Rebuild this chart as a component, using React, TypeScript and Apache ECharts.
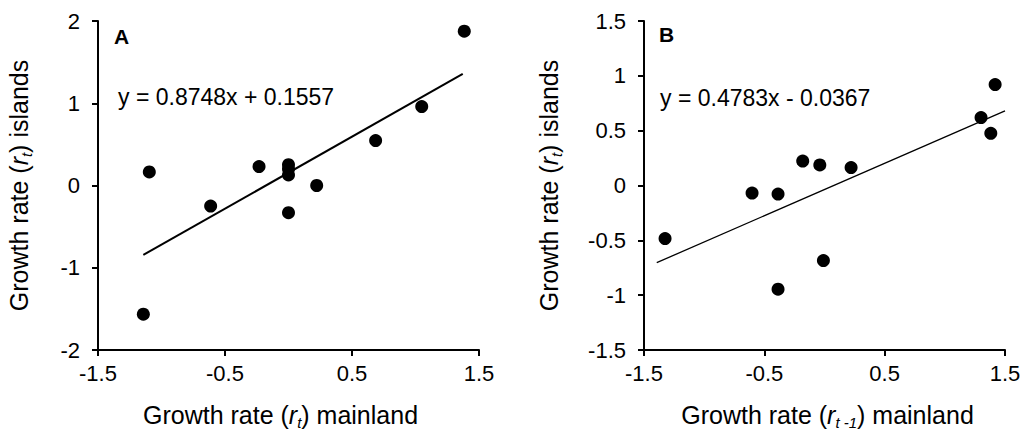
import React, { useEffect, useRef } from "react";
import * as echarts from "echarts";

const mainlandA = [1.384, 1.049, 0.686, 0.222, 0.0, 0.0, 0.0, 0.0, -0.232, -0.613, -1.096, -1.143];
const islandsA = [1.876, 0.959, 0.546, 0.0, 0.253, 0.2, 0.128, -0.33, 0.23, -0.25, 0.165, -1.565];
const mainlandB = [1.418, 1.301, 1.382, -0.181, -0.039, 0.221, -0.602, -0.386, -1.325, -0.009, -0.386];
const islandsB = [0.92, 0.62, 0.476, 0.223, 0.187, 0.163, -0.069, -0.078, -0.484, -0.685, -0.946];

const fitA = { slope: 0.8748, intercept: 0.1557, from: -1.143, to: 1.372 };
const fitB = { slope: 0.4783, intercept: -0.0367, from: -1.394, to: 1.5 };

const equationA = "y = 0.8748x + 0.1557";
const equationB = "y = 0.4783x - 0.0367";

const FONT = "'Liberation Sans', Arial, sans-serif";

function pairs(xs: number[], ys: number[]) {
  return xs.map((x, i) => [x, ys[i]]);
}
function fitLine(f: { slope: number; intercept: number; from: number; to: number }) {
  return [f.from, f.to].map((x) => [x, f.slope * x + f.intercept]);
}

const titleRich = {
  n: { fontSize: 25, fontFamily: FONT, color: "#000", lineHeight: 30 },
  i: { fontSize: 25, fontFamily: FONT, color: "#000", fontStyle: "italic", lineHeight: 30 },
  s: { fontSize: 15, fontFamily: FONT, color: "#000", fontStyle: "italic", lineHeight: 14, verticalAlign: "bottom" },
};

function xAxis(idx: number, name: string, pad: number[]) {
  return {
    type: "value",
    gridIndex: idx,
    min: -1.5,
    max: 1.5,
    interval: 1,
    name,
    nameLocation: "middle",
    nameGap: 50,
    nameTextStyle: { rich: titleRich, padding: pad },
    axisLine: { onZero: false, lineStyle: { color: "#000", width: 2 } },
    axisTick: { show: true, length: 6, lineStyle: { color: "#000", width: 2 } },
    axisLabel: { color: "#000", fontSize: 22, fontFamily: FONT, margin: 12 },
    splitLine: { show: false },
  };
}
function yAxis(idx: number, name: string, min: number, max: number, interval: number, gap: number) {
  return {
    type: "value",
    gridIndex: idx,
    min,
    max,
    interval,
    name,
    nameLocation: "middle",
    nameGap: gap,
    nameRotate: 90,
    nameTextStyle: { rich: titleRich },
    axisLine: { onZero: false, lineStyle: { color: "#000", width: 2 } },
    axisTick: { show: true, length: 6, lineStyle: { color: "#000", width: 2 } },
    axisLabel: { color: "#000", fontSize: 22, fontFamily: FONT, margin: 18 },
    splitLine: { show: false },
  };
}

export default function App() {
  const ref = useRef<HTMLDivElement>(null);
  useEffect(() => {
    if (!ref.current) return;
    const chart = echarts.init(ref.current, null, { renderer: "svg" });
    chart.setOption({
      animation: false,
      backgroundColor: "#fff",
      grid: [
        { left: 98, top: 21, width: 381, height: 332 },
        { left: 644, top: 21, width: 361, height: 332 },
      ],
      xAxis: [
        xAxis(0, "{n|Growth rate (}{i|r}{s|t}{n|) mainland}", [0, 16, 0, 0]),
        xAxis(1, "{n|Growth rate (}{i|r}{s|t -1}{n|) mainland}", [0, 0, 0, 6]),
      ],
      yAxis: [
        yAxis(0, "{n|Growth rate (}{i|r}{s|t}{n|) islands}", -2, 2, 1, 64),
        yAxis(1, "{n|Growth rate (}{i|r}{s|t}{n|) islands}", -1.5, 1.5, 0.5, 80),
      ],
      series: [
        {
          type: "scatter",
          xAxisIndex: 0,
          yAxisIndex: 0,
          data: pairs(mainlandA, islandsA),
          symbolSize: 13,
          itemStyle: { color: "#000", opacity: 1 },
          z: 3,
        },
        {
          type: "line",
          xAxisIndex: 0,
          yAxisIndex: 0,
          data: fitLine(fitA),
          symbol: "none",
          lineStyle: { color: "#000", width: 2 },
          z: 2,
        },
        {
          type: "scatter",
          xAxisIndex: 1,
          yAxisIndex: 1,
          data: pairs(mainlandB, islandsB),
          symbolSize: 13,
          itemStyle: { color: "#000", opacity: 1 },
          z: 3,
        },
        {
          type: "line",
          xAxisIndex: 1,
          yAxisIndex: 1,
          data: fitLine(fitB),
          symbol: "none",
          lineStyle: { color: "#000", width: 1.3 },
          z: 2,
        },
      ],
      graphic: [
        { type: "text", left: 114, top: 26, style: { text: "A", font: `bold 21px ${FONT}`, fill: "#000" } },
        { type: "text", left: 659, top: 24, style: { text: "B", font: `bold 21px ${FONT}`, fill: "#000" } },
        { type: "text", left: 118, top: 85, style: { text: equationA, font: `23px ${FONT}`, fill: "#000" } },
        { type: "text", left: 660, top: 86, style: { text: equationB, font: `23px ${FONT}`, fill: "#000" } },
      ],
    });
    return () => chart.dispose();
  }, []);
  return (
    <div
      ref={ref}
      style={{ position: "absolute", left: 0, top: 0, width: 1024, height: 435, background: "#fff" }}
    />
  );
}
